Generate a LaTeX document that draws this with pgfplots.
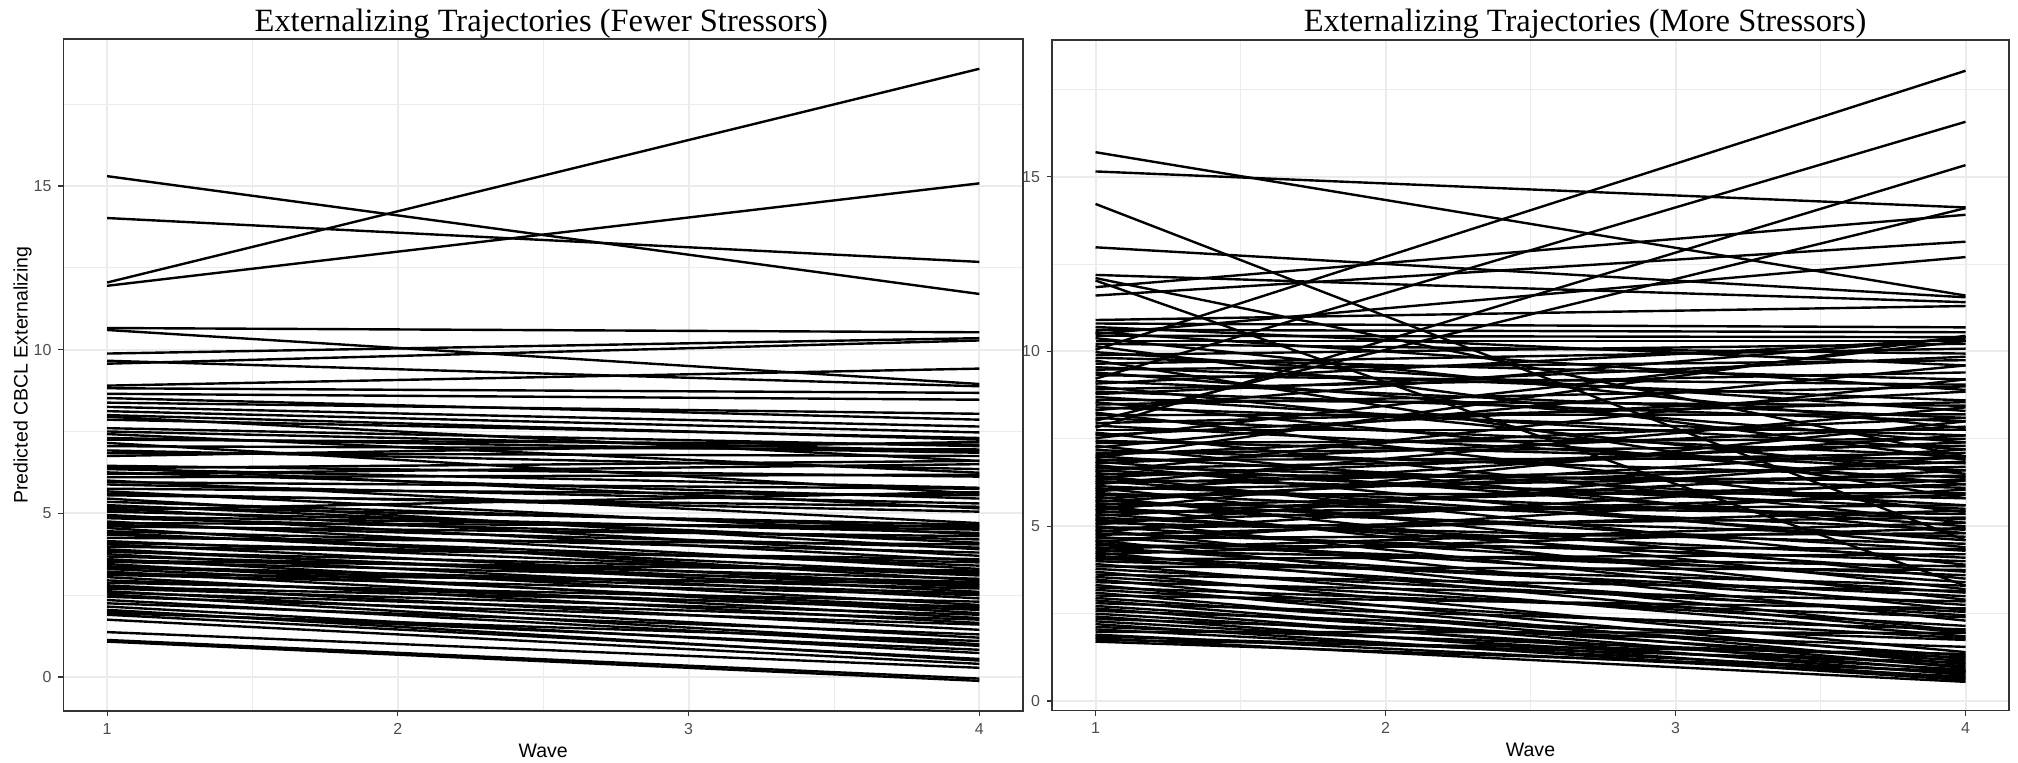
\documentclass[border=0pt]{standalone}
\usepackage{pgfplots}
\usepackage{pgfplotstable}
\pgfplotsset{compat=1.18}
\usepackage{fontspec}
\setmainfont{Liberation Sans}
\newfontfamily\titlefont{Liberation Serif}
\definecolor{gridc}{HTML}{EBEBEB}
\definecolor{framec}{HTML}{333333}
\definecolor{tickc}{HTML}{4D4D4D}

\pgfplotstableread{
y1 y4
12.05 18.58
11.95 15.08
15.30 11.70
14.02 12.68
10.66 10.53
10.60 8.95
9.88 10.35
9.57 10.28
9.66 8.88
8.90 9.42
8.82 8.68
8.65 8.47
8.52 7.86
8.38 8.04
8.25 7.65
8.12 7.47
7.95 6.60
7.86 7.30
7.60 7.05
7.42 6.24
7.30 6.85
7.15 5.60
7.05 6.95
6.84 6.75
6.75 7.18
6.45 6.12
6.35 5.78
6.25 5.45
6.10 6.18
6.00 4.70
5.88 5.30
5.75 5.55
5.67 4.35
5.55 5.20
5.45 3.90
5.35 4.55
5.25 4.10
5.15 3.70
5.05 4.40
4.95 3.55
4.85 4.20
4.75 3.30
4.65 3.95
4.55 2.95
4.45 3.80
4.35 3.40
4.25 4.05
4.15 3.10
4.05 2.80
3.98 3.60
3.90 2.60
3.82 3.20
3.75 2.40
3.68 3.00
3.60 2.20
3.52 2.90
3.45 1.95
3.38 2.70
3.30 2.10
3.22 1.80
3.12 2.50
3.05 1.65
2.88 2.30
2.80 1.44
2.70 1.90
2.62 1.20
2.52 1.00
2.45 1.60
2.35 0.95
2.25 1.30
2.15 0.73
2.00 0.83
1.90 0.55
1.75 0.40
1.37 0.28
1.13 -0.05
1.08 -0.12
6.38 6.60
6.20 6.50
5.95 5.75
5.60 5.05
5.20 4.65
4.90 4.50
4.60 4.30
4.40 3.15
4.10 3.50
3.85 2.75
3.55 3.25
3.35 2.55
3.15 2.85
2.95 2.05
2.75 2.15
2.58 1.75
7.50 6.90
7.25 7.10
6.92 6.35
8.00 7.25
5.10 5.65
4.70 4.60
6.40 5.15
2.05 0.50
1.95 1.10
}\leftdata

\pgfplotstableread{
y1 y4
15.70 11.60
15.15 14.12
14.22 4.60
12.98 11.55
12.19 11.41
12.10 7.00
12.03 3.30
11.84 13.91
11.60 13.14
10.50 12.70
10.90 11.30
10.80 10.69
10.70 9.60
10.62 10.55
10.55 8.90
10.45 10.41
10.38 7.80
10.30 10.30
10.22 9.94
10.15 6.90
10.05 18.03
9.98 8.30
9.90 10.22
9.82 9.20
9.74 5.80
9.65 10.08
9.55 8.60
9.48 9.75
9.40 7.40
9.32 9.05
9.22 16.57
9.15 8.10
9.08 10.35
9.00 6.50
8.92 9.40
8.85 8.00
8.78 9.85
8.70 7.20
8.62 8.45
8.55 6.20
8.48 9.00
8.40 7.60
8.32 10.40
8.25 5.40
8.18 8.20
8.10 7.00
8.02 14.10
7.95 8.55
7.88 6.60
7.82 15.33
7.75 7.75
7.68 5.10
7.60 8.85
7.52 10.30
7.45 6.80
7.38 7.50
7.30 4.80
7.25 9.60
7.18 6.40
7.10 7.30
7.04 8.10
7.00 5.60
6.95 10.45
6.90 6.95
6.85 5.00
6.80 7.85
6.75 4.40
6.70 6.10
6.65 7.10
6.60 5.50
6.55 9.20
6.50 6.30
6.45 3.90
6.40 7.40
6.35 5.80
6.30 4.60
6.25 6.70
6.20 8.40
6.15 5.20
6.10 3.50
6.05 6.45
6.00 7.60
5.95 4.90
5.90 5.95
5.85 3.20
5.80 6.85
5.75 4.30
5.70 7.20
5.65 5.35
5.60 2.90
5.55 6.20
5.50 4.70
5.45 8.00
5.40 5.60
5.35 3.70
5.30 6.60
5.25 4.10
5.20 2.60
5.15 5.90
5.10 4.50
5.05 7.00
5.00 3.40
4.95 5.25
4.90 2.30
4.85 6.35
4.80 4.00
4.75 5.45
4.70 3.10
4.65 4.80
4.60 2.00
4.55 6.05
4.50 3.60
4.45 4.35
4.40 2.75
4.35 5.10
4.30 3.85
4.25 1.95
4.20 4.95
4.15 3.00
4.10 2.45
4.05 4.20
4.00 3.30
3.92 1.85
3.85 3.75
3.78 2.55
3.70 1.40
3.62 3.15
3.55 2.15
3.48 1.20
3.40 2.85
3.32 1.05
3.25 2.40
3.18 1.80
3.10 0.95
3.02 2.65
2.95 1.30
2.88 0.85
2.80 2.05
2.72 1.15
2.65 0.75
2.58 1.75
2.50 1.00
2.42 0.65
2.35 1.55
2.28 0.90
2.20 0.60
2.12 1.25
2.05 0.80
1.98 1.95
1.90 0.70
1.85 1.10
1.80 0.55
1.75 1.35
1.70 0.85
}\rightdata

\pgfplotsset{
  ggbw/.style={
    scale only axis,
    xmin=0.85, xmax=4.15,
    xtick={1,2,3,4},
    minor xtick={1.5,2.5,3.5},
    ytick={0,5,10,15},
    minor ytick={2.5,7.5,12.5,17.5},
    grid=both,
    major grid style={draw=gridc, line width=1bp},
    minor grid style={draw=gridc, line width=0.5bp},
    axis line style={draw=framec, line width=0.6bp},
    major tick style={draw=framec, line width=0.6bp},
    minor tick length=0pt,
    major tick length=2.5bp,
    tick align=outside,
    xtick pos=bottom,
    ytick pos=left,
    tick label style={font=\fontsize{8}{9.6}\selectfont, text=tickc},
    /pgf/number format/assume math mode=true,
    xlabel={Wave},
    xlabel style={font=\fontsize{9.8}{11.8}\selectfont, at={(axis description cs:0.5,0)}, anchor=base, yshift=-23bp},
    title style={font=\fontsize{16.3}{19.5}\selectfont, anchor=base},
    traj/.style={black, line width=1.2bp, no marks,
      quiver={u=3, v=\thisrow{y4}-\thisrow{y1}}},
  }
}

\begin{document}
\begin{tikzpicture}
\useasboundingbox (0,0) rectangle (1009bp,381.5bp);

\begin{axis}[ggbw,
  at={(31.75bp,26bp)}, anchor=south west,
  width=479.75bp, height=336bp,
  ymin=-1.04, ymax=19.49,
  title={\titlefont Externalizing Trajectories (Fewer Stressors)},
  title style={at={(axis description cs:0.498,1)}, yshift=-2bp},
  ylabel={Predicted CBCL Externalizing},
  every axis y label/.style={at={(axis description cs:-0.0427,0.5)}, rotate=90, anchor=center, font=\fontsize{9.8}{11.8}\selectfont},
]
\addplot[traj] table[x expr=1, y=y1] {\leftdata};
\end{axis}

\begin{axis}[ggbw,
  at={(526bp,26.25bp)}, anchor=south west,
  width=478.5bp, height=335.25bp,
  ymin=-0.27, ymax=18.91,
  title={\titlefont Externalizing Trajectories (More Stressors)},
  title style={at={(axis description cs:0.557,1)}, yshift=-1.5bp},
]
\addplot[traj] table[x expr=1, y=y1] {\rightdata};
\end{axis}
\end{tikzpicture}
\end{document}
